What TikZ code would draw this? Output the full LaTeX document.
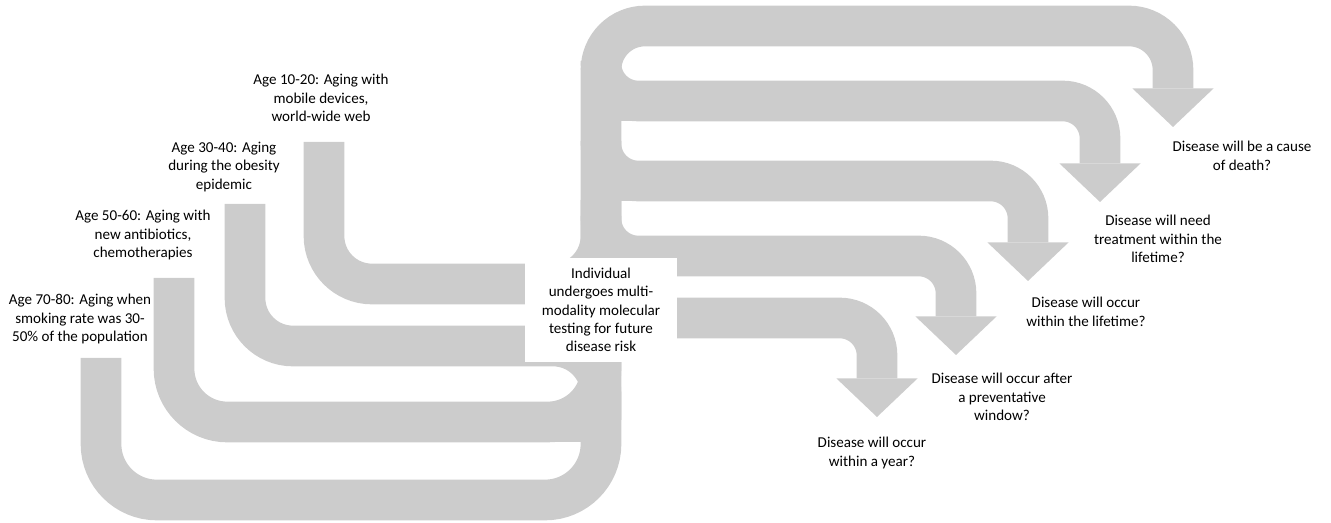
\documentclass[tikz,border=0pt]{standalone}
\usepackage{fontspec}
\setmainfont{Carlito}
\usepackage{xcolor}
\definecolor{BandGray}{RGB}{204,204,204}
\usetikzlibrary{arrows.meta, backgrounds}

\begin{document}
\begin{tikzpicture}[
  x=0.75pt, y=-0.75pt,
  font=\fontsize{11.3}{14}\selectfont,
  band/.style={
    draw=BandGray, line width=30.5pt,
    rounded corners=36pt
  },
  outband/.style={
    band, rounded corners=28pt,
    -{Triangle[length=29pt, width=61pt, line width=0pt]}
  },
  caption/.style={
    align=center, inner sep=0pt
  },
  hub/.style={
    fill=white, align=center,
    minimum width=114pt, minimum height=78pt,
    inner sep=0pt,
    font=\fontsize{11.3}{13.75}\selectfont
  }
]
\useasboundingbox (0,0) rectangle (1331,523);

% age groups
\node[caption] (age10) at (321,98)
  {Age 10-20: Aging with\\mobile devices,\\world-wide web};
\node[caption] (age30) at (224,167)
  {Age 30-40: Aging\\during the obesity\\epidemic};
\node[caption] (age50) at (143,235)
  {Age 50-60: Aging with\\new antibiotics,\\chemotherapies};
\node[caption] (age70) at (80,319)
  {Age 70-80: Aging when\\smoking rate was 30-\\50\% of the population};

% testing
\node[hub] (test) at (601,310)
  {Individual\\undergoes multi-\\modality molecular\\testing for future\\disease risk};

% outcomes
\node[caption] (death) at (1242,156)
  {Disease will be a cause\\of death?};
\node[caption] (treat) at (1158,239)
  {Disease will need\\treatment within the\\lifetime?};
\node[caption] (life) at (1086,312)
  {Disease will occur\\within the lifetime?};
\node[caption] (window) at (1002,397)
  {Disease will occur after\\a preventative\\window?};
\node[caption] (year) at (872,453)
  {Disease will occur\\within a year?};

% band ends and bends
\coordinate (s10) at (324,142);
\coordinate (s30) at (245,204);
\coordinate (s50) at (174,278);
\coordinate (s70) at (101,358);
\coordinate (j10) at (601,284);
\coordinate (e10) at (601,200);
\coordinate (j30) at (601,346);
\coordinate (e30) at (601,420);
\coordinate (j50) at (601,422);
\coordinate (j70) at (601,500);

\coordinate (k1) at (1173,26);
\coordinate (a1) at (1173,127);
\coordinate (t2) at (601,61);
\coordinate (j2) at (601,101);
\coordinate (a2) at (1100,202);
\coordinate (t3) at (601,141);
\coordinate (j3) at (601,181);
\coordinate (a3) at (1028,281);
\coordinate (t4) at (601,216);
\coordinate (j4) at (601,256);
\coordinate (a4) at (956,355);
\coordinate (t5) at (601,278);
\coordinate (j5) at (601,318);
\coordinate (a5) at (877,417);

\begin{scope}[on background layer]
\draw[band] (s10) |- (j10) -- (e10);
\draw[band] (s30) |- (j30) -- (e30);
\draw[band, rounded corners=40pt] (s50) |- (j50) -- (test.center);
\draw[band, sharp corners] (j50) -- ++(-60,0);
\draw[band, rounded corners=42pt] (s70) |- (j70) -- (test.center);

\draw[outband, rounded corners=33pt] (test.center) |- (k1) -- (a1);
\draw[outband] (t2) -- (j2) -| (a2);
\draw[band, sharp corners] (j2) -- ++(60,0);
\draw[outband] (t3) -- (j3) -| (a3);
\draw[band, sharp corners] (j3) -- ++(60,0);
\draw[outband] (t4) -- (j4) -| (a4);
\draw[outband] (t5) -- (j5) -| (a5);
\end{scope}

\end{tikzpicture}
\end{document}
